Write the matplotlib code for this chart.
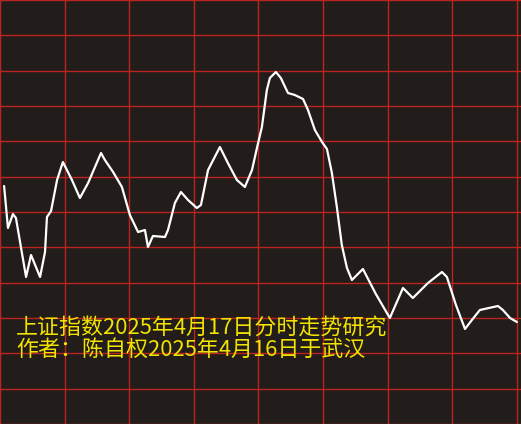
import numpy as np
import matplotlib
matplotlib.use("Agg")
from matplotlib import pyplot as plt

# intraday trace, minute of the session and index level
minutes = [1.9, 3.7, 6.0, 7.4, 12.1, 14.4, 18.6, 20.9, 21.8, 23.7, 26.5, 29.2,
           33.4, 37.1, 40.9, 46.9, 48.7, 52.5, 56.6, 60.3, 64.1, 67.3, 68.7,
           71.0, 76.6, 78.0, 81.2, 84.0, 87.3, 91.4, 93.3, 96.6, 102.1, 105.8,
           110.0, 113.7, 117.0, 119.3, 121.6, 123.9, 125.3, 128.1, 130.4,
           133.7, 136.9, 140.7, 143.0, 146.2, 149.5, 151.8, 154.1, 156.4,
           158.7, 161.1, 163.4, 168.5, 174.5, 181.0, 187.1, 191.7, 198.7,
           205.2, 207.5, 211.7, 215.9, 219.1, 222.8, 231.2, 233.5, 236.8, 240.0]
prices = [3281.4, 3277.2, 3278.6, 3278.2, 3272.3, 3274.5, 3272.3, 3274.8,
          3278.3, 3278.9, 3282.0, 3283.8, 3282.0, 3280.2, 3281.7, 3284.7,
          3284.0, 3282.8, 3281.3, 3278.5, 3276.8, 3277.0, 3275.3, 3276.4,
          3276.3, 3277.0, 3279.7, 3280.8, 3280.0, 3279.2, 3279.5, 3283.0,
          3285.3, 3283.7, 3282.0, 3281.3, 3283.0, 3285.2, 3287.3, 3291.0,
          3292.2, 3292.8, 3292.2, 3290.7, 3290.5, 3290.1, 3289.0, 3287.0,
          3285.8, 3285.1, 3282.7, 3279.3, 3275.5, 3273.2, 3272.0, 3273.1,
          3270.6, 3268.2, 3271.2, 3270.2, 3271.7, 3272.8, 3272.3, 3269.5,
          3267.1, 3268.0, 3269.0, 3269.4, 3269.0, 3268.2, 3267.8]

title_text = "上证指数2025年4月17日分时走势研究"
author_text = "作者：陈自权2025年4月16日于武汉"

bg = "#221c1a"
grid_red = "#bb2420"

fig = plt.figure(figsize=(5.21, 4.24), dpi=100)
fig.patch.set_facecolor(bg)
ax = fig.add_axes([0, 0, 1, 1])
ax.set_facecolor(bg)

ax.set_xlim(0, 241.9)
ax.set_ylim(3257.6, 3300.0)
ax.set_xticks(np.arange(0, 241, 30))
ax.set_yticks(np.linspace(3257.6, 3300.0, 13))
ax.grid(True, color=grid_red, linewidth=1.0)
ax.tick_params(length=0, labelbottom=False, labelleft=False)
for s in ax.spines.values():
    s.set_visible(False)
ax.set_axisbelow(True)

# the price line
ax.plot(minutes, prices, color="white", linewidth=1.6,
        solid_joinstyle="round", solid_capstyle="round")

# captions
fam = ["Noto Sans CJK SC", "DejaVu Sans"]
fig.text(16 / 521, 1 - 328 / 424, title_text, color="#f2e400", fontsize=15.8,
         family=fam, va="center", ha="left")
fig.text(16 / 521, 1 - 350 / 424, author_text, color="#f2e400", fontsize=15.8,
         family=fam, va="center", ha="left")

plt.savefig("out.png", dpi=100, facecolor=bg)
